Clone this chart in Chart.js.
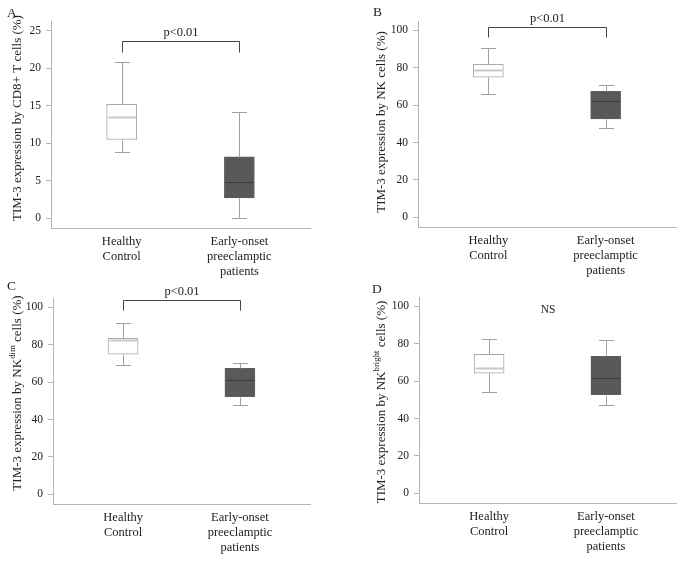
<!DOCTYPE html>
<html>
<head>
<meta charset="utf-8">
<script src="https://cdn.jsdelivr.net/npm/chart.js@4.4.1/dist/chart.umd.min.js"></script>
<style>
  html, body { margin: 0; padding: 0; background: #fff; }
  body { width: 683px; height: 561px; position: relative; overflow: hidden; }
  canvas { position: absolute; }
</style>
</head>
<body>
<canvas id="chartA" width="341" height="280" style="left:0;top:0"></canvas>
<canvas id="chartB" width="342" height="280" style="left:341px;top:0"></canvas>
<canvas id="chartC" width="341" height="281" style="left:0;top:280px"></canvas>
<canvas id="chartD" width="342" height="281" style="left:341px;top:280px"></canvas>
<script>
// ---------- data (whisker low, Q1, median, Q3, whisker high) ----------
const groupLabels = [['Healthy', 'Control'], ['Early-onset', 'preeclamptic', 'patients']];

const cd8Healthy = [8.8, 10.5, 13.5, 15.2, 20.9];
const cd8Early   = [0.0, 2.7, 4.8, 8.2, 14.1];

const nkHealthy  = [66.2, 74.9, 78.8, 81.8, 90.3];
const nkEarly    = [47.7, 52.6, 62.1, 67.4, 71.0];

const nkDimHealthy = [69.0, 74.9, 82.4, 83.4, 91.8];
const nkDimEarly   = [47.6, 52.2, 61.0, 67.4, 70.0];

const nkBrightHealthy = [54.4, 64.2, 67.1, 74.3, 82.6];
const nkBrightEarly   = [47.3, 52.8, 61.7, 73.3, 82.0];

const ticksCd8 = [0, 5, 10, 15, 20, 25];
const ticksPct = [0, 20, 40, 60, 80, 100];

const sigLabels = ['p<0.01', 'p<0.01', 'p<0.01', 'NS'];

// ---------- styling ----------
const FONT = "'Liberation Serif', 'Times New Roman', serif";
const AXIS_GREY = '#b4b4b4';
const WHISKER = '#a0a0a0';
const TEXT = '#222';

// draws whiskers, medians, brackets, titles and panel letters from the scales
const boxExtras = {
  id: 'boxExtras',
  afterDatasetsDraw(chart, args, opts) {
    const { ctx, scales: { x, y } } = chart;
    const meta = chart.getDatasetMeta(0);
    const seg = (x1, y1, x2, y2) => { ctx.beginPath(); ctx.moveTo(x1, y1); ctx.lineTo(x2, y2); ctx.stroke(); };
    ctx.save();
    opts.stats.forEach((s, i) => {
      const cx = Math.round(x.getPixelForValue(i + 1)) + 0.5;
      const half = meta.data[i].width / 2;
      const py = v => Math.round(y.getPixelForValue(v)) + 0.5;
      ctx.lineWidth = 1;
      ctx.strokeStyle = WHISKER;
      seg(cx, py(s[3]), cx, py(s[4]));
      seg(cx, py(s[1]), cx, py(s[0]));
      seg(cx - half / 2, py(s[4]), cx + half / 2, py(s[4]));
      seg(cx - half / 2, py(s[0]), cx + half / 2, py(s[0]));
      ctx.strokeStyle = i === 0 ? '#c8c8c8' : '#3a3a3a';
      ctx.lineWidth = i === 0 ? 2 : 1;
      seg(cx - half + 1, py(s[2]), cx + half - 1, py(s[2]));
    });

    // significance
    const sig = opts.sig;
    const x1 = Math.round(x.getPixelForValue(1)) + 0.5;
    const x2 = Math.round(x.getPixelForValue(2)) + 0.5;
    ctx.fillStyle = TEXT;
    ctx.textAlign = 'center';
    if (sig.top != null) {
      const yt = Math.round(y.getPixelForValue(sig.top)) + 0.5;
      const yl = Math.round(y.getPixelForValue(sig.leg)) + 0.5;
      ctx.strokeStyle = '#454545';
      ctx.lineWidth = 1;
      ctx.beginPath();
      ctx.moveTo(x1, yl); ctx.lineTo(x1, yt); ctx.lineTo(x2, yt); ctx.lineTo(x2, yl);
      ctx.stroke();
      ctx.font = '12.5px ' + FONT;
      ctx.textBaseline = 'alphabetic';
      ctx.fillText(sig.text, (x1 + x2) / 2, yt - 6);
    } else {
      ctx.font = '11.5px ' + FONT;
      ctx.textBaseline = 'middle';
      ctx.fillText(sig.text, (x1 + x2) / 2, y.getPixelForValue(sig.y));
    }
    ctx.restore();
  },
  afterDraw(chart, args, opts) {
    const ctx = chart.ctx;
    ctx.save();
    // rotated y title with optional superscript
    const size = 13;
    const big = size + 'px ' + FONT;
    const small = (size * 0.68).toFixed(1) + 'px ' + FONT;
    let total = 0;
    opts.title.forEach(s => { ctx.font = s.sup ? small : big; total += ctx.measureText(s.t).width; });
    ctx.translate(opts.titleX, opts.titleY);
    ctx.rotate(-Math.PI / 2);
    ctx.fillStyle = TEXT;
    ctx.textAlign = 'left';
    ctx.textBaseline = 'middle';
    let px = -total / 2;
    opts.title.forEach(s => {
      ctx.font = s.sup ? small : big;
      ctx.fillText(s.t, px, s.sup ? -size * 0.38 : 0);
      px += ctx.measureText(s.t).width;
    });
    ctx.restore();
    // panel letter
    ctx.save();
    ctx.font = '13.5px ' + FONT;
    ctx.fillStyle = TEXT;
    ctx.textAlign = 'left';
    ctx.textBaseline = 'alphabetic';
    ctx.fillText(opts.letter, opts.letterX, opts.letterY);
    ctx.restore();
  }
};

function makePanel(id, cfg) {
  const canvas = document.getElementById(id);
  const W = canvas.width, H = canvas.height;
  const yAxisW = 40, xAxisH = 50;
  const area = cfg.area;
  const stats = [cfg.healthy, cfg.early];

  new Chart(canvas.getContext('2d'), {
    type: 'bar',
    data: {
      datasets: [{
        data: stats.map((s, i) => ({ x: i + 1, y: [s[1], s[3]] })),
        backgroundColor: ['#ffffff', '#595959'],
        borderColor: ['#a8a8a8', '#5e5e5e'],
        borderWidth: 1,
        borderSkipped: false,
        barThickness: 30
      }]
    },
    options: {
      responsive: false,
      animation: false,
      events: [],
      layout: {
        padding: { left: area.l - yAxisW, top: area.t, right: W - area.r, bottom: H - area.b - xAxisH }
      },
      plugins: {
        legend: { display: false },
        tooltip: { enabled: false },
        boxExtras: {
          stats,
          sig: cfg.sig,
          title: cfg.title,
          titleX: cfg.titleX,
          titleY: cfg.titleY,
          letter: cfg.letter,
          letterX: cfg.letterX,
          letterY: cfg.letterY
        }
      },
      scales: {
        x: {
          type: 'linear',
          offset: false,
          min: 0.4,
          max: 2.6,
          afterBuildTicks: s => { s.ticks = groupLabels.map((g, i) => ({ value: i + 1 })); },
          afterFit: s => { s.height = xAxisH; },
          ticks: {
            callback: v => groupLabels[v - 1],
            font: { family: FONT, size: 12.5, lineHeight: 1.2 },
            color: TEXT,
            padding: 6,
            maxRotation: 0,
            autoSkip: false
          },
          grid: { display: false, drawTicks: false, offset: false },
          border: { display: true, color: AXIS_GREY, width: 1 }
        },
        y: {
          type: 'linear',
          min: cfg.yMin,
          max: cfg.yMax,
          afterBuildTicks: s => { s.ticks = cfg.ticks.map(v => ({ value: v })); },
          afterFit: s => { s.width = yAxisW; },
          ticks: {
            font: { family: FONT, size: 11.5 },
            color: TEXT,
            padding: 5
          },
          grid: { drawOnChartArea: false, drawTicks: true, tickLength: 5, color: AXIS_GREY },
          border: { display: true, color: AXIS_GREY, width: 1 }
        }
      }
    },
    plugins: [boxExtras]
  });
}

makePanel('chartA', {
  healthy: cd8Healthy, early: cd8Early, ticks: ticksCd8, yMin: -1.3, yMax: 26.3,
  area: { l: 51, t: 21, r: 310, b: 228 },
  sig: { text: sigLabels[0], top: 23.6, leg: 22.2 },
  title: [{ t: 'TIM-3 expression by CD8+ T cells (%)' }],
  titleX: 18, titleY: 118, letter: 'A', letterX: 7, letterY: 17
});

makePanel('chartB', {
  healthy: nkHealthy, early: nkEarly, ticks: ticksPct, yMin: -5.2, yMax: 105,
  area: { l: 77, t: 21, r: 335, b: 227 },
  sig: { text: sigLabels[1], top: 101.6, leg: 96.3 },
  title: [{ t: 'TIM-3 expression by NK cells (%)' }],
  titleX: 40.5, titleY: 122, letter: 'B', letterX: 32, letterY: 16
});

makePanel('chartC', {
  healthy: nkDimHealthy, early: nkDimEarly, ticks: ticksPct, yMin: -5.2, yMax: 105,
  area: { l: 53, t: 18, r: 310, b: 224 },
  sig: { text: sigLabels[2], top: 103.9, leg: 98.6 },
  title: [{ t: 'TIM-3 expression by NK' }, { t: 'dim', sup: true }, { t: ' cells (%)' }],
  titleX: 18, titleY: 113, letter: 'C', letterX: 7, letterY: 10
});

makePanel('chartD', {
  healthy: nkBrightHealthy, early: nkBrightEarly, ticks: ticksPct, yMin: -5.2, yMax: 105,
  area: { l: 78, t: 17, r: 335, b: 223 },
  sig: { text: sigLabels[3], y: 98.2 },
  title: [{ t: 'TIM-3 expression by NK' }, { t: 'bright', sup: true }, { t: ' cells (%)' }],
  titleX: 41, titleY: 122, letter: 'D', letterX: 31, letterY: 13
});
</script>
</body>
</html>
